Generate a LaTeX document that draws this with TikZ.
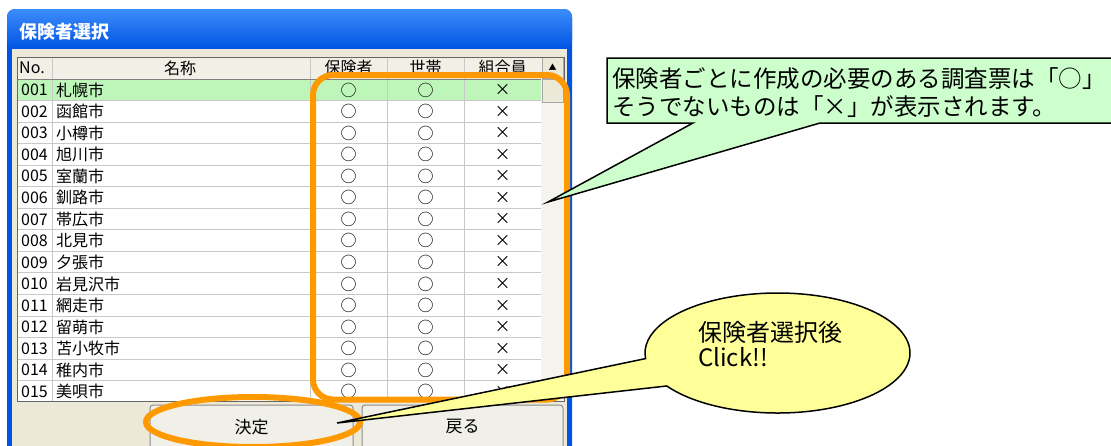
\documentclass[tikz,border=0pt]{standalone}
\usepackage{fontspec}
\setmainfont{Noto Sans CJK JP}
\usetikzlibrary{shapes.callouts}

\definecolor{xpblue}{RGB}{0, 84, 227}
\definecolor{titletop}{RGB}{60, 140, 250}
\definecolor{panelcolor}{RGB}{236, 233, 216}
\definecolor{headcolor}{RGB}{242, 240, 230}
\definecolor{gridcolor}{RGB}{200, 200, 200}
\definecolor{selcolor}{RGB}{190, 246, 186}
\definecolor{trackcolor}{RGB}{244, 243, 236}
\definecolor{buttoncolor}{RGB}{240, 239, 232}
\definecolor{markorange}{RGB}{255, 153, 0}
\definecolor{notegreen}{RGB}{204, 255, 204}
\definecolor{noteyellow}{RGB}{255, 255, 153}

\begin{document}
\begin{tikzpicture}[x=1pt, y=-1pt,
    celltext/.style={font=\fontsize{16}{16}\selectfont, inner sep=0pt},
    titletext/.style={font=\fontsize{18}{18}\selectfont\bfseries, text=white, inner sep=0pt},
    gridline/.style={draw=gridcolor, line width=1pt},
    scrollbtn/.style={draw=black!35, fill=panelcolor, minimum width=21pt, inner sep=0pt, font=\fontsize{8}{8}\selectfont},
    button/.style={draw=black!45, fill=buttoncolor, rounded corners=3pt, line width=1pt, minimum height=44pt, font=\fontsize{17}{17}\selectfont},
    markframe/.style={draw=markorange, line width=6pt},
    notebox/.style={draw=black, line width=1.5pt, fill=notegreen},
    bubble/.style={ellipse callout, draw=black, line width=1.5pt, fill=noteyellow, minimum width=265pt, minimum height=120pt, callout pointer arc=28},
    notetext/.style={font=\fontsize{23.5}{28}\selectfont, align=left, inner sep=0pt}
    ]

    \newcommand{\citylist}{
        001/札幌市,
        002/函館市,
        003/小樽市,
        004/旭川市,
        005/室蘭市,
        006/釧路市,
        007/帯広市,
        008/北見市,
        009/夕張市,
        010/岩見沢市,
        011/網走市,
        012/留萌市,
        013/苫小牧市,
        014/稚内市,
        015/美唄市
    }

    \useasboundingbox (0,0) rectangle (1111,445);
    \clip (0,0) rectangle (1111,445);

    % Window
    \fill[xpblue, rounded corners=8pt] (7,9) rectangle (572,470);
    \shade[top color=titletop, bottom color=xpblue, rounded corners=8pt] (7,9) rectangle (572,49);
    \node[titletext, anchor=west] (title) at (19,32) {保険者選択};
    \fill[panelcolor] (12,49) rectangle (567,470);

    % List
    \fill[white] (17,57) rectangle (564,401);
    \fill[headcolor] (17,57) rectangle (541,79);
    \node[celltext] (hno) at (32,68) {No.};
    \node[celltext] (hname) at (180,68) {名称};
    \node[celltext] (hins) at (348.5,67) {保険者};
    \node[celltext] (hhh) at (425.5,67) {世帯};
    \node[celltext] (hmem) at (502.5,67) {組合員};

    \begin{scope}
        \clip (17,57) rectangle (541,401);
        \fill[selcolor] (17,79) rectangle (541,100.5);
        % Define rows
        \foreach [count = \i] \no/\city in \citylist {
            \pgfmathsetmacro{\rowtop}{79+21.55*(\i-1)}
            \pgfmathsetmacro{\rowmid}{\rowtop+11}
            \draw[gridline] (17,\rowtop+21.55) -- (541,\rowtop+21.55);
            \node[celltext, anchor=west] (no\i) at (21,\rowmid) {\no};
            \node[celltext, anchor=west] (city\i) at (56,\rowmid) {\city};
            \node[celltext] (ins\i) at (348.5,\rowmid) {○};
            \node[celltext] (hh\i) at (425.5,\rowmid) {○};
            \node[celltext] (mem\i) at (502.5,\rowmid) {×};
        }
    \end{scope}
    \foreach \x in {52,310,387,464}
        \draw[gridline] (\x,57) -- (\x,401);
    \draw[black!50, line width=1pt] (17,79) -- (541,79);

    % Scrollbar
    \fill[trackcolor] (541,57) rectangle (564,401);
    \node[scrollbtn, minimum height=21pt] (up) at (552.5,67.5) {▲};
    \node[scrollbtn, minimum height=23pt] (thumb) at (552.5,90.5) {};
    \draw[black!60, line width=1pt] (17,57) rectangle (564,401);

    % Buttons
    \node[button, minimum width=203pt] (ok) at (251.5,427) {決定};
    \node[button, minimum width=201pt] (back) at (462.5,427) {戻る};

    % Marks
    \draw[markframe, rounded corners=20pt] (313,75) rectangle (567,399.5);
    \draw[markframe] (253,422) ellipse [x radius=107pt, y radius=25pt];

    % Callouts
    \coordinate (notetip) at (548,202);
    \draw[notebox] (607,58) -- (1125,58) -- (1125,123) -- (820,123) -- (notetip) -- (693,123) -- (607,123) -- cycle;
    \node[notetext, anchor=north west] (note) at (612,67)
        {保険者ごとに作成の必要のある調査票は「○」\\そうでないものは「×」が表示されます。};

    \coordinate (clicktip) at (337,423);
    \node[bubble, callout absolute pointer={(clicktip)}] (click) at (777.5,353) {};
    \node[notetext, font=\fontsize{24}{25}\selectfont, anchor=north west] (clicktext) at (698,321)
        {保険者選択後\\Click!!};
\end{tikzpicture}
\end{document}
